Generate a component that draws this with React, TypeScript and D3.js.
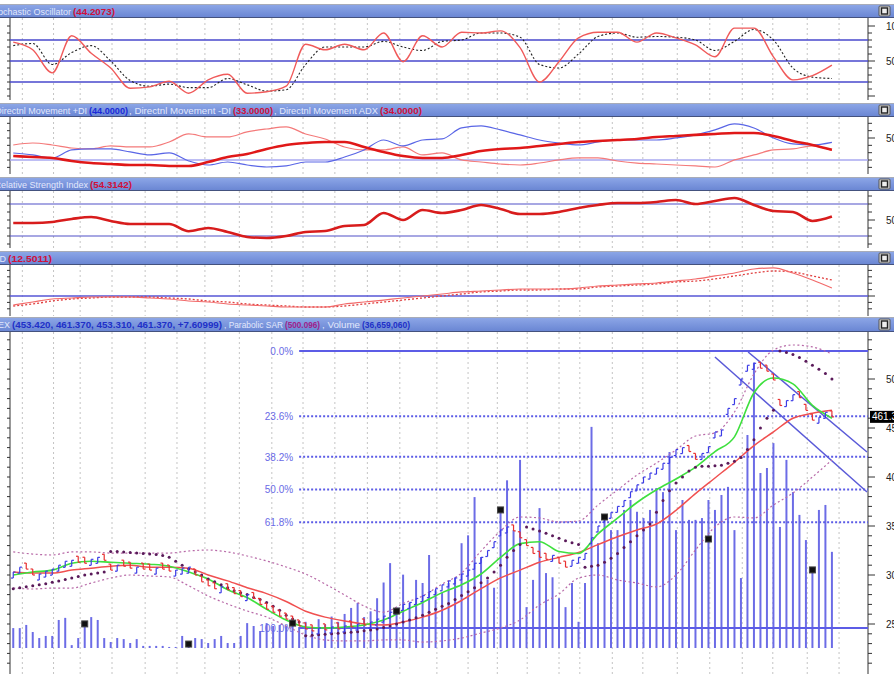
import React, { useRef, useEffect } from "react";
import * as d3 from "d3";

// daily series (127 sessions)
const closes = [
  303, 308, 306, 300, 301, 304, 306, 310, 314, 315, 313, 312, 316, 318, 315,
  305, 310, 309, 307, 308, 306, 305, 307, 306, 304, 305, 307, 308,
  300, 293, 289, 286, 288, 285, 281, 278, 280, 276, 270, 265, 262, 258, 255, 252,
  248, 245, 243, 246, 244, 247, 245, 248, 247, 250, 249, 252,
  255, 258, 262, 266, 270, 272, 276, 279, 283, 286, 290, 294, 297, 301, 305, 312, 318, 325, 334, 346, 349,
  345, 338, 330, 322, 318, 316, 320, 312, 308, 315, 318, 322,
  338, 350, 360, 364, 370, 376, 385, 392, 400, 404, 409, 414, 420, 428, 430, 426, 418, 424, 431, 446,
  448, 470, 480, 500, 514, 516, 511, 508, 499, 473, 478, 484, 481, 468, 458, 461, 466, 461.37,
];

// volume in millions
const volumes = [
  7.6, 7.6, 8.8, 6.1, 3.8, 4.6, 4.6, 10.7, 11.5, 1.1, 3.8, 9.2, 11.8, 10.7, 3.8, 2.3, 3.8, 3.4, 1.9, 3.4,
  0.8, 0.8, 0.8, 0.8, 0.4, 0.4, 4.6, 1.5, 3.8, 3.4, 1.9, 3.4, 4.6, 1.9, 1.9, 4.6, 9.5, 8.4, 6.5, 9.5,
  8.4, 8.8, 8.4, 9.5, 8, 10, 7, 11, 9, 12, 10, 13, 15.3, 17.2, 11.8, 14, 19, 25, 32.4, 14.1,
  28, 17.2, 26, 24.8, 35.5, 22, 21, 24.8, 27, 40, 43, 57.6, 34.7, 26, 23, 52.7, 64, 45, 71.8, 15.6,
  26, 53.4, 28.6, 27, 19, 15.6, 24.8, 10, 24.8, 84.4, 40, 50, 45, 45, 52.7, 56.5, 52, 49.6, 52.7, 61,
  59.5, 74.8, 45, 56.5, 48.9, 48.9, 49.6, 56.5, 52.7, 58.4, 61.5, 45, 26.7, 81.3, 109, 66.8, 68.7, 78.2, 46.2, 71.8,
  59.5, 50.8, 41.2, 29.8, 52.7, 54.6, 36.7,
];

const sar = [
  286, 287, 288, 289, 290, 291, 292.5, 294, 295.5, 297, 298.5, 300, 301, 302, 303,
  324, 324, 323.5, 323, 322.5, 322, 321.5, 321, 320, 318, 314, 310, 306, 303, 300, 296, 293, 290, 287, 284,
  282, 280, 277, 275, 272, 268, 264, 259, 255, 252,
  238, 238.5, 239, 239.5, 240, 240.5, 241, 241.5, 242, 243, 244, 245, 246.5, 248, 250, 252, 254, 256.5,
  259, 262, 265, 268, 271, 275, 279, 283, 287, 292, 297, 303, 310, 318, 325, 331,
  349, 347, 345, 342.5, 340, 337.5, 335, 333, 331,
  308, 309, 310, 313, 317, 322, 328, 334, 340, 346, 352, 364, 376, 386, 394, 400, 406, 410, 411, 411,
  411.5, 412, 414, 416, 420, 428, 438, 450, 460, 468,
  528.6, 527, 525, 522, 518, 514, 510, 505.5, 500.1,
];

// smoothed series, one value every 3rd session
const STEP = 3;
const maFast = [300, 303, 305, 312, 314, 313, 312, 311, 309, 303, 296, 285, 277, 265, 254, 247, 246, 247, 249, 254,
  263, 272, 282, 290, 301, 318, 332, 334, 324, 322, 342, 358, 374, 387, 398, 410, 426, 441, 486, 501, 495, 473, 460];
const maSlow = [303, 302, 302, 305, 307, 309, 310, 308, 308, 307, 300, 294, 287, 281, 273, 263, 257, 253, 250, 249,
  252, 257, 264, 274, 286, 297, 305, 313, 318, 323, 331, 339, 346, 352, 366, 383, 399, 415, 432, 446, 460, 465, 468];
const bbUpper = [323.5, 321.4, 320.4, 323.5, 323.5, 322.4, 322.4, 322.4, 322.4, 324.5, 325.5, 323.5, 319.4, 314.3,
  308.2, 301, 290.8, 279.6, 268.4, 262, 271, 278.6, 290.8, 302, 324.5, 344.9, 359.2, 358.2, 354.1, 355.1, 371.4,
  386.7, 402, 414.3, 427.6, 441.8, 445, 466.3, 505.1, 529.6, 534.7, 532.7, 525.5];
const bbLower = [286.7, 285.7, 286.7, 286.7, 291.8, 296.9, 300, 299, 298, 289, 278.6, 270.4, 263.3, 257.1, 248,
  238.8, 233.7, 232.7, 232.7, 233.7, 233.7, 231.6, 232.7, 235.7, 240.8, 245.9, 254.1, 269.4, 280.6, 296.9, 300,
  294.9, 291.8, 287.8, 300, 325.5, 349, 359.2, 358.2, 371.4, 383.7, 400, 417.3];

const stochK = [77, 66, 33, 86, 61, 40, 11, 13, 21, 4, 23, 31, 4, 6, 14, 74, 66, 74, 66, 90, 49, 86, 70, 91, 90,
  93, 69, 20, 49, 83, 91, 91, 77, 90, 83, 73, 56, 97, 97, 56, 23, 29, 44];
const stochD = [72, 75, 45, 62, 72, 50, 22, 14, 17, 12, 12, 25, 16, 7, 9, 45, 70, 70, 70, 78, 70, 65, 78, 80, 90,
  90, 84, 45, 40, 60, 85, 90, 84, 85, 84, 80, 65, 78, 95, 80, 40, 27, 25];
const plusDI = [29.6, 26.9, 22.8, 33.7, 35.1, 35.1, 31, 26.9, 29.6, 18.7, 13.2, 17.3, 13.2, 10.5, 11.9, 17.3, 17.3,
  24.1, 33.7, 47.3, 39.2, 47.3, 48.7, 63.7, 66.4, 61, 54.2, 47.3, 43.2, 40.5, 44.6, 47.3, 47.3, 47.3, 50.1, 54.2,
  61, 69.2, 63.7, 50.1, 41.9, 40.5, 44];
const minusDI = [40.5, 43.2, 40.5, 36.4, 35.1, 39.2, 37.8, 37.8, 44.6, 55.5, 51.4, 51.4, 58.3, 62.3, 65.1, 55.5,
  48.7, 37.8, 33.7, 33.7, 37.8, 26.9, 29.6, 20.1, 17.3, 14.6, 13.2, 15.9, 20.1, 22.8, 22.8, 18.7, 15.9, 14.6, 13.2,
  11.9, 10.5, 20.1, 26.9, 33.7, 35.1, 39.2, 33];
const adx = [25.5, 24.1, 22.8, 18.7, 15.9, 14.6, 13.2, 13.2, 11.9, 11.9, 17.3, 24.1, 28.2, 35.1, 40.5, 43.2, 44.6,
  44.6, 37.8, 31, 25.5, 22.8, 22.8, 26.9, 32.3, 35.1, 36.4, 39.2, 41.9, 44.6, 46, 47.3, 48.7, 51.4, 52.8, 54.2,
  55.5, 56.9, 56.9, 52.8, 46, 40.5, 34];
const rsi = [46.3, 46.3, 47.5, 51.3, 53.8, 48.8, 45, 45, 45, 36, 40, 35, 28.8, 27.5, 30, 35, 36.3, 42.5, 43.8, 58.8,
  50, 62.5, 58.8, 62.5, 68.8, 63.8, 57.5, 57.5, 60, 65, 68.8, 71.3, 71.3, 72.5, 75, 70, 73.8, 77.5, 68.8, 61.3, 60,
  48.8, 54.3];
const macd = [-14.1, -9.4, -4.7, -3.1, -1.6, -1.6, -1.6, -3.1, -4.7, -7.8, -9.4, -12.5, -14.1, -15.6, -17.2, -17.2,
  -17.2, -12.5, -9.4, -6.3, -3.1, 0, 3.1, 6.3, 7.8, 9.4, 10.9, 10.9, 10.9, 12.5, 15.6, 17.2, 18.8, 20.3, 23.4,
  26.6, 31.3, 35.9, 42.2, 43.8, 35.9, 25, 12.5];
const macdSignal = [-15.6, -12.5, -7.8, -4.7, -3.1, -1.6, -1.6, -1.6, -3.1, -4.7, -7.8, -9.4, -12.5, -14.1, -15.6,
  -17.2, -17.2, -15.6, -12.5, -9.4, -6.3, -3.1, 0, 3.1, 6.3, 7.8, 9.4, 9.4, 10.9, 10.9, 14.1, 15.6, 17.2, 18.8,
  21.9, 23.4, 26.6, 31.3, 35.9, 39.1, 37.5, 31.3, 25];

// week separators (session index)
const weekTicks = [1.4, 6.2, 10.3, 15.2, 20.3, 25.2, 29.5, 34.8, 39.8, 44.6, 49.5, 54.5, 59.5, 65.2, 70, 74.5,
  79.1, 84, 87.2, 92.2, 96.9, 102.2, 107.2, 112.2, 116.9, 122.2, 127.1];

const markerIdx = [11, 27, 43, 59, 75, 91, 107, 123];
const markerVol = [9.2, 1.5, 9.5, 14.1, 52.7, 50, 41.6, 29.8];

const fibHigh = 528.6;
const fibLow = 245.9;
const fibFrom = 44;
const fibRatios = [0, 0.236, 0.382, 0.5, 0.618, 1];
const fibLabels = ["0.0%", "23.6%", "38.2%", "50.0%", "61.8%", "100.0%"];

const trendLines = [
  [[108, 522.4], [131.4, 384.7]],
  [[113.1, 527.6], [131.4, 425.5]],
];

const stochLevels = [80, 50, 20];
const rsiLevels = [70, 30];
const lastPrice = 461.37;

const headerTitles = [
  ["Stochastic Oscillator"],
  ["Directnl Movement +DI", ", Directnl Movement -DI", ", Directnl Movement ADX"],
  ["Relative Strength Index"],
  ["MACD"],
  ["OEX", ", Parabolic SAR", ", Volume"],
];
const headerValues = [
  ["(44.2073)"],
  ["(44.0000)", "(33.0000)", "(34.0000)"],
  ["(54.3142)"],
  ["(12.5011)"],
  ["(453.420, 461.370, 453.310, 461.370, +7.60999)", "(500.096)", "(36,659,060)"],
];

const W = 894, H = 674;
const L = 10, R = 868;

const panels = [
  { hy: 4, hh: 14, y0: 18, y1: 100 },
  { hy: 103, hh: 14, y0: 117, y1: 174 },
  { hy: 177, hh: 14, y0: 191, y1: 248 },
  { hy: 251, hh: 14, y0: 265, y1: 316 },
  { hy: 317, hh: 15, y0: 332, y1: 674 },
];

// per segment: [title start (null = ends at value), title end, value start, value end]
const headerPos: [number | null, number, number, number][][] = [
  [[null, 71, 73, 115]],
  [[null, 87, 89, 128], [129, 231, 233, 273], [274, 378, 380, 422]],
  [[null, 88, 90, 132]],
  [[null, 6, 8, 52]],
  [[null, 10, 12, 222], [224, 283, 285, 320], [322, 360, 362, 410]],
];
const valueColors = [
  ["#d0103a"],
  ["#1a2ad8", "#d0103a", "#d0103a"],
  ["#d0103a"],
  ["#d0103a"],
  ["#2030c8", "#a0208a", "#2030c8"],
];

export default function App() {
  const ref = useRef<SVGSVGElement>(null);

  useEffect(() => {
    const svg = d3.select(ref.current);
    svg.selectAll("*").remove();

    const xs = d3.scaleLinear().domain([-0.5, 131.4]).range([L, R - 1]);
    const sx = (_d: number, k: number) => xs(k * STEP);

    const scales = [
      d3.scaleLinear().domain([0, 100]).range([96, 26]),
      d3.scaleLinear().domain([0, 50]).range([174.7, 138]),
      d3.scaleLinear().domain([30, 70]).range([236, 204]),
      d3.scaleLinear().domain([0, 10]).range([296, 289.6]),
      d3.scaleLinear().domain([250, 500]).range([624, 379]),
    ];
    const volY = d3.scaleLinear().domain([0, 100]).range([648, 386]);
    const pY = scales[4];

    const defs = svg.append("defs");
    const grad = defs.append("linearGradient").attr("id", "hdr").attr("x1", 0).attr("x2", 0).attr("y1", 0).attr("y2", 1);
    grad.append("stop").attr("offset", "0%").attr("stop-color", "#8ea8e8");
    grad.append("stop").attr("offset", "100%").attr("stop-color", "#6884d2");

    svg.append("rect").attr("width", W).attr("height", H).attr("fill", "#fff");

    const layers: any[] = [];
    panels.forEach((p, pi) => {
      defs.append("clipPath").attr("id", "clip" + pi)
        .append("rect").attr("x", L).attr("y", p.y0).attr("width", R - L).attr("height", p.y1 - p.y0);

      // vertical week grid
      const g = svg.append("g");
      weekTicks.forEach(t => {
        g.append("line")
          .attr("x1", xs(t)).attr("x2", xs(t)).attr("y1", p.y0).attr("y2", p.y1)
          .attr("stroke", "#c4c4c4").attr("stroke-width", 1).attr("stroke-dasharray", "2,3");
      });

      // axes
      const sc = scales[pi];
      const lo = sc.invert(p.y1), hi = sc.invert(p.y0);
      const vals = d3.range(Math.ceil(lo / 10) * 10, hi, 10);
      g.append("line").attr("x1", R).attr("x2", R).attr("y1", p.y0).attr("y2", p.y1).attr("stroke", "#333");
      g.append("line").attr("x1", L).attr("x2", L).attr("y1", p.y0).attr("y2", p.y1).attr("stroke", "#333");
      vals.forEach(v => {
        const y = sc(v);
        if (y < p.y0 + 2 || y > p.y1 - 2) return;
        const major = Math.abs(v % 50) < 1e-6;
        g.append("line").attr("x1", R).attr("x2", R + (major ? 7 : 4)).attr("y1", y).attr("y2", y).attr("stroke", "#333");
        g.append("line").attr("x1", L - 3).attr("x2", L).attr("y1", y).attr("y2", y).attr("stroke", "#333");
        if (major && pi !== 3 && !(pi === 0 && v === 0)) {
          g.append("text").attr("x", 886).attr("y", y + 3.5).attr("font-size", 10).attr("fill", "#222").text(String(v));
        }
      });

      layers.push(svg.append("g").attr("clip-path", `url(#clip${pi})`));

      // header bar
      const h = svg.append("g");
      h.append("rect").attr("x", 0).attr("y", p.hy).attr("width", W).attr("height", p.hh).attr("fill", "url(#hdr)");
      h.append("line").attr("x1", 0).attr("x2", W).attr("y1", p.hy + 0.5).attr("y2", p.hy + 0.5).attr("stroke", "#a8acb8");
      h.append("line").attr("x1", 0).attr("x2", W).attr("y1", p.hy + p.hh - 0.5).attr("y2", p.hy + p.hh - 0.5).attr("stroke", "#44527e");
      h.append("rect").attr("x", 879).attr("y", p.hy + 2).attr("width", 11).attr("height", p.hh - 4)
        .attr("fill", "#d6d6d6").attr("stroke", "#555").attr("rx", 1);
      h.append("rect").attr("x", 881.5).attr("y", p.hy + 4).attr("width", 6).attr("height", p.hh - 8)
        .attr("fill", "#eee").attr("stroke", "#222").attr("stroke-width", 1.4);

      headerTitles[pi].forEach((t, k) => {
        const [ts, te, vs, ve] = headerPos[pi][k];
        const tt = h.append("text").attr("y", p.hy + 10.5)
          .attr("font-size", 9).attr("fill", "#e2e8fc").text(t);
        if (ts === null) {
          tt.attr("x", te).attr("text-anchor", "end");
        } else {
          tt.attr("x", ts).attr("textLength", te - ts).attr("lengthAdjust", "spacingAndGlyphs");
        }
        h.append("text").attr("x", vs).attr("y", p.hy + 10.5)
          .attr("textLength", ve - vs).attr("lengthAdjust", "spacingAndGlyphs")
          .attr("font-size", 9.5).attr("font-weight", "bold").attr("fill", valueColors[pi][k]).text(headerValues[pi][k]);
      });
    });

    const hline = (g: any, y: number, color: string, w: number, dash?: string, x1 = L) => {
      const l = g.append("line").attr("x1", x1).attr("x2", R).attr("y1", y).attr("y2", y)
        .attr("stroke", color).attr("stroke-width", w);
      if (dash) l.attr("stroke-dasharray", dash);
    };
    const path = (g: any, data: number[], sc: any, color: string, w: number, dash?: string) => {
      const p = g.append("path")
        .attr("d", d3.line<number>().x(sx).y(d => sc(d)).curve(d3.curveMonotoneX)(data))
        .attr("fill", "none").attr("stroke", color).attr("stroke-width", w);
      if (dash) p.attr("stroke-dasharray", dash);
    };

    // stochastic
    stochLevels.forEach(v => hline(layers[0], scales[0](v), "#4848cc", 1.6));
    path(layers[0], stochD, scales[0], "#222", 1.1, "2,2");
    path(layers[0], stochK, scales[0], "#f05a5a", 1.4);

    // DMI
    hline(layers[1], scales[1](20), "#a8a8f0", 1.6);
    path(layers[1], minusDI, scales[1], "#f47a7a", 1.2);
    path(layers[1], plusDI, scales[1], "#5a66e6", 1.2);
    path(layers[1], adx, scales[1], "#e01818", 2.6);

    // RSI
    rsiLevels.forEach(v => hline(layers[2], scales[2](v), "#5050c8", 1.1));
    path(layers[2], rsi, scales[2], "#d81c1c", 2.6);

    // MACD
    hline(layers[3], scales[3](0), "#5656d6", 1.6);
    path(layers[3], macdSignal, scales[3], "#e04040", 1.3, "2,2");
    path(layers[3], macd, scales[3], "#f26a6a", 1.2);

    // main panel
    const m = layers[4];
    volumes.forEach((v, i) => {
      m.append("line").attr("x1", xs(i)).attr("x2", xs(i)).attr("y1", volY(0)).attr("y2", volY(v))
        .attr("stroke", "#6c6ce6").attr("stroke-width", 2);
    });

    fibRatios.forEach((r, k) => {
      const y = pY(fibHigh - r * (fibHigh - fibLow));
      const solid = r === 0 || r === 1;
      hline(m, y, "#5c5ce6", 2, solid ? undefined : "2,2", xs(fibFrom));
      m.append("text").attr("x", xs(fibFrom) - 6).attr("y", y + 4).attr("text-anchor", "end")
        .attr("font-size", 10).attr("fill", "#6a6ae6").text(fibLabels[k]);
    });

    trendLines.forEach(tl => {
      m.append("line").attr("x1", xs(tl[0][0])).attr("y1", pY(tl[0][1]))
        .attr("x2", xs(tl[1][0])).attr("y2", pY(tl[1][1]))
        .attr("stroke", "#5a5ad8").attr("stroke-width", 1.5);
    });

    path(m, bbUpper, pY, "#b86aa8", 1.2, "2,2.5");
    path(m, bbLower, pY, "#b86aa8", 1.2, "2,2.5");
    path(m, maSlow, pY, "#f05050", 1.5);
    path(m, maFast, pY, "#3ee03e", 1.6);

    sar.forEach((v, i) => {
      m.append("circle").attr("cx", xs(i)).attr("cy", pY(v)).attr("r", 1.5).attr("fill", "#5a1a5a");
    });

    // small bar glyph at each close, coloured by direction against the previous close
    closes.forEach((c, i) => {
      const up = i === 0 || c >= closes[i - 1];
      const color = up ? "#3c3ce6" : "#e83030";
      const yc = pY(c);
      const yo = yc + (up ? 6 : -6);
      const x = xs(i);
      m.append("line").attr("x1", x).attr("x2", x).attr("y1", yo).attr("y2", yc).attr("stroke", color).attr("stroke-width", 1.2);
      m.append("line").attr("x1", x - 2.2).attr("x2", x).attr("y1", yo).attr("y2", yo).attr("stroke", color).attr("stroke-width", 1.2);
      m.append("line").attr("x1", x).attr("x2", x + 2.2).attr("y1", yc).attr("y2", yc).attr("stroke", color).attr("stroke-width", 1.2);
    });

    markerIdx.forEach((i, k) => {
      m.append("rect").attr("x", xs(i) - 3).attr("y", volY(markerVol[k]) - 3).attr("width", 6).attr("height", 6)
        .attr("fill", "#111").attr("stroke", "#444");
    });

    // last price tag
    const ly = pY(lastPrice);
    svg.append("rect").attr("x", R + 2).attr("y", ly - 6).attr("width", 30).attr("height", 12).attr("fill", "#000");
    svg.append("text").attr("x", R + 4).attr("y", ly + 3.5).attr("font-size", 10).attr("fill", "#fff").text(lastPrice.toFixed(2));
  }, []);

  return (
    <svg
      ref={ref}
      width={W}
      height={H}
      style={{ position: "absolute", left: 0, top: 0, fontFamily: "'Liberation Sans', Arial, sans-serif" }}
    />
  );
}
